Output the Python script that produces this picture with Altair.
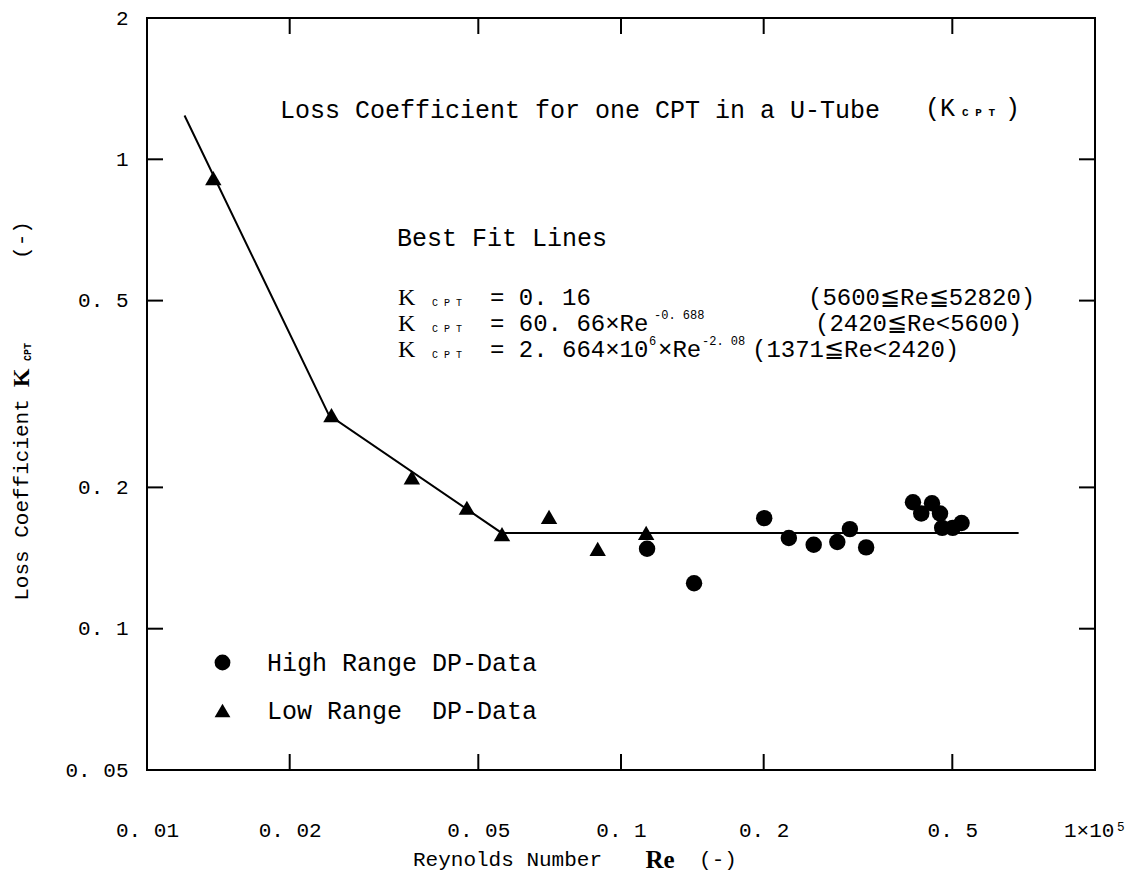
import altair as alt
import pandas as pd

# ---------------- data (Re in units of 1e5) ----------------
low_re = [0.0138, 0.0245, 0.0362, 0.0473, 0.0561, 0.0705, 0.0893, 0.113]
low_k = [0.912, 0.285, 0.210, 0.181, 0.159, 0.173, 0.148, 0.160]

high_re = [0.1135, 0.1426, 0.2005, 0.226, 0.255, 0.286, 0.304, 0.329,
           0.413, 0.430, 0.453, 0.471, 0.476, 0.501, 0.523]
high_k = [0.148, 0.125, 0.172, 0.156, 0.151, 0.153, 0.163, 0.149,
          0.186, 0.176, 0.185, 0.176, 0.164, 0.164, 0.168]

fit_re = [0.0120, 0.0242, 0.0560, 0.69]
fit_k = [1.24, 0.285, 0.160, 0.160]

series_names = ["High Range DP-Data", "Low Range\u00a0\u00a0DP-Data"]

x_tick_vals = [0.01, 0.02, 0.05, 0.1, 0.2, 0.5, 1]
x_top_label = "1×10⁵"
y_tick_vals = [0.05, 0.1, 0.2, 0.5, 1, 2]
x_inner_ticks = [0.02, 0.05, 0.1, 0.2, 0.5]
y_inner_ticks = [0.1, 0.2, 0.5, 1]

# ---------------- layout ----------------
W, H = 948, 752
MONO = "Liberation Mono"
TICKFONT = "Liberation Mono"
SERIF = "Liberation Serif"

xs = alt.Scale(type="log", domain=[0.01, 1], nice=False)
ys = alt.Scale(type="log", domain=[0.05, 2], nice=False)

xa = alt.Axis(values=x_tick_vals, format=".2~f",
              labelExpr="datum.value >= 0.99 ? '" + x_top_label + "' : replace(datum.label, '.', '. ')",
              ticks=False, domain=False, grid=False, labelPadding=49,
              labelFont=TICKFONT, labelFontSize=21, labelColor="black", title=None,
              labelFlush=False, labelOverlap=False)
ya = alt.Axis(values=y_tick_vals, format=".2~f",
              labelExpr="replace(datum.label, '.', '. ')",
              ticks=False, domain=False, grid=False, labelPadding=19,
              labelFont=TICKFONT, labelFontSize=21, labelColor="black", title=None,
              labelFlush=False, labelOverlap=False)

pts = pd.DataFrame({
    "re": high_re + low_re,
    "k": high_k + low_k,
    "series": [series_names[0]] * len(high_re) + [series_names[1]] * len(low_re),
})
fit = pd.DataFrame({"re": fit_re, "k": fit_k})

line = alt.Chart(fit).mark_line(color="black", strokeWidth=2).encode(
    x=alt.X("re:Q", scale=xs, axis=xa),
    y=alt.Y("k:Q", scale=ys, axis=ya),
)

points = alt.Chart(pts).mark_point(filled=True, color="black", opacity=1, size=270).encode(
    x=alt.X("re:Q", scale=xs, axis=xa),
    y=alt.Y("k:Q", scale=ys, axis=ya),
    shape=alt.Shape("series:N", scale=alt.Scale(domain=series_names, range=["circle", "triangle-up"]),
                    legend=alt.Legend(orient="none", legendX=63, legendY=632, title=None,
                                      labelFont=MONO, labelFontSize=25, labelColor="black",
                                      labelLimit=500, symbolSize=250, symbolFillColor="black",
                                      symbolStrokeColor="black", symbolOpacity=1,
                                      rowPadding=22, labelOffset=32)),
)

tx = pd.DataFrame({"re": x_inner_ticks})
ty = pd.DataFrame({"k": y_inner_ticks})
tick_bottom = alt.Chart(tx).mark_rule(color="black", strokeWidth=2).encode(
    x=alt.X("re:Q", scale=xs, axis=xa), y=alt.value(H), y2=alt.value(H - 16))
tick_top = alt.Chart(tx).mark_rule(color="black", strokeWidth=2).encode(
    x=alt.X("re:Q", scale=xs, axis=xa), y=alt.value(0), y2=alt.value(16))
tick_left = alt.Chart(ty).mark_rule(color="black", strokeWidth=2).encode(
    y=alt.Y("k:Q", scale=ys, axis=ya), x=alt.value(0), x2=alt.value(16))
tick_right = alt.Chart(ty).mark_rule(color="black", strokeWidth=2).encode(
    y=alt.Y("k:Q", scale=ys, axis=ya), x=alt.value(W), x2=alt.value(W - 16))


def txt(s, x, y, size, font=MONO, weight="normal", angle=0, align="left"):
    return alt.Chart(pd.DataFrame({"t": [s]})).mark_text(
        font=font, fontSize=size, fontWeight=weight, angle=angle, align=align,
        baseline="middle", color="black").encode(
        x=alt.value(x), y=alt.value(y), text="t:N")


# offsets: plot origin at (147, 18) on the page
ox, oy = 147, 18
L1, L2, L3 = 298, 324, 350
texts = [
    # inner title
    txt("Loss Coefficient for one CPT in a U-Tube", 280 - ox, 110 - oy, 25),
    txt("(K", 925 - ox, 108 - oy, 25),
    txt("C P T", 962 - ox, 113 - oy, 11, weight="bold"),
    txt(")", 1005 - ox, 108 - oy, 25),
    # best fit block
    txt("Best Fit Lines", 397 - ox, 238 - oy, 25),
    txt("K", 398 - ox, L1 - oy, 24, font=SERIF),
    txt("C P T", 432 - ox, L1 + 5 - oy, 10),
    txt("= 0. 16", 490 - ox, L1 - oy, 24),
    txt("(5600≦Re≦52820)", 808 - ox, L1 - oy, 24),
    txt("K", 398 - ox, L2 - oy, 24, font=SERIF),
    txt("C P T", 432 - ox, L2 + 5 - oy, 10),
    txt("= 60. 66×Re", 490 - ox, L2 - oy, 24),
    txt("-0. 688", 654 - ox, L2 - 9 - oy, 12),
    txt("(2420≦Re<5600)", 815 - ox, L2 - oy, 24),
    txt("K", 398 - ox, L3 - oy, 24, font=SERIF),
    txt("C P T", 432 - ox, L3 + 5 - oy, 10),
    txt("= 2. 664×10", 490 - ox, L3 - oy, 24),
    txt("6", 649 - ox, L3 - 9 - oy, 12),
    txt("×Re", 658 - ox, L3 - oy, 24),
    txt("-2. 08", 702 - ox, L3 - 9 - oy, 12),
    txt("(1371≦Re<2420)", 752 - ox, L3 - oy, 24),
    # x axis title
    txt("Reynolds Number", 413 - ox, 860 - oy, 21),
    txt("Re", 660 - ox, 860 - oy, 25, font=SERIF, weight="bold", align="center"),
    txt("(-)", 718 - ox, 860 - oy, 21, align="center"),
    # y axis title (rotated)
    txt("Loss Coefficient", 22 - ox, 500 - oy, 21, angle=270, align="center"),
    txt("K", 22 - ox, 378 - oy, 24, font=SERIF, weight="bold", angle=270, align="center"),
    txt("CPT", 28 - ox, 352 - oy, 10, weight="bold", angle=270, align="center"),
    txt("(-)", 22 - ox, 240 - oy, 21, angle=270, align="center"),
]

chart = alt.layer(line, points, tick_bottom, tick_top, tick_left, tick_right, *texts).properties(
    width=W, height=H,
    autosize=alt.AutoSizeParams(type="none"),
    padding={"left": 147, "top": 18, "right": 33, "bottom": 115},
    background="white",
).configure_view(stroke="black", strokeWidth=2)

chart.save("out.html", embed_options={"renderer": "svg", "actions": False})
